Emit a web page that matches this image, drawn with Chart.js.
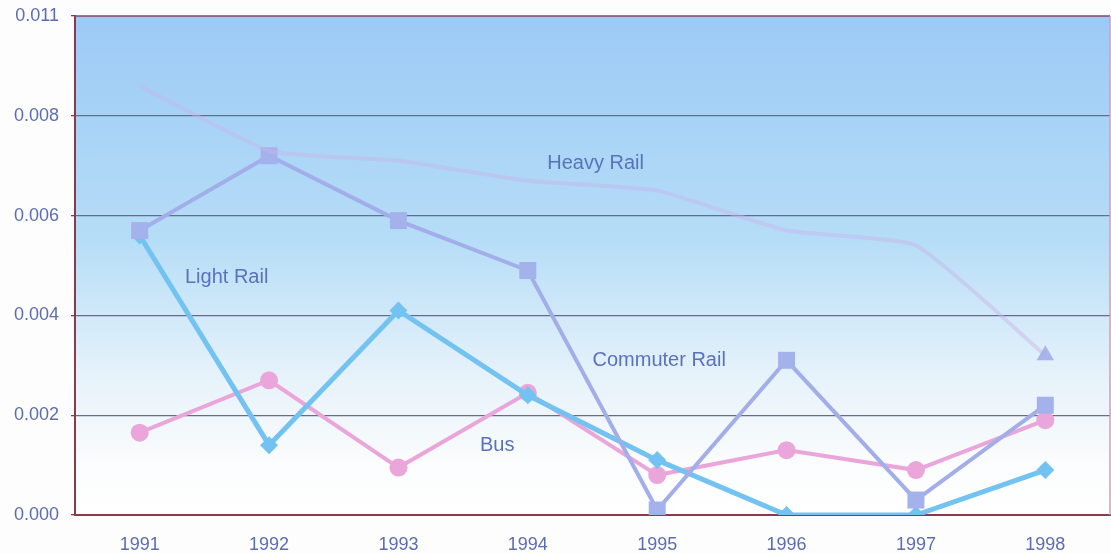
<!DOCTYPE html>
<html>
<head>
<meta charset="utf-8">
<script src="https://cdn.jsdelivr.net/npm/chart.js@4.4.0/dist/chart.umd.min.js"></script>
<style>
  html, body { margin: 0; padding: 0; background: #fdfdfd; }
  #wrap { width: 1111px; height: 554px; position: relative; }
</style>
</head>
<body>
<div id="wrap"><canvas id="chart"></canvas></div>
<script>
// данные
const years = ['1991', '1992', '1993', '1994', '1995', '1996', '1997', '1998'];
const heavyRail    = [0.0086, 0.0073, 0.0071, 0.0067, 0.0065, 0.0057, 0.0054, 0.0032];
const commuterRail = [0.0057, 0.0072, 0.0059, 0.0049, 0.0001, 0.0031, 0.0003, 0.0022];
const lightRail    = [0.0056, 0.0014, 0.0041, 0.0024, 0.0011, 0.0000, 0.0000, 0.0009];
const bus          = [0.00165, 0.0027, 0.00095, 0.00245, 0.0008, 0.0013, 0.0009, 0.0019];
const yTicks = [0, 0.002, 0.004, 0.006, 0.008, 0.010];
const yTickLabels = ['0.000', '0.002', '0.004', '0.006', '0.008', '0.011'];

// подписи серий: [текст, позиция по категориям, значение]
const seriesLabels = [
    ['Heavy Rail', 3.15, 0.00705],
    ['Light Rail', 0.35, 0.00475],
    ['Commuter Rail', 3.5, 0.0031],
    ['Bus', 2.63, 0.0014]
];

const textColor = '#5c6db0';
const fontFamily = '"Liberation Sans", Arial, sans-serif';

const backgroundPlugin = {
    id: 'bgGradient',
    beforeDraw(chart) {
        const { ctx, chartArea: a } = chart;
        const g = ctx.createLinearGradient(0, a.top, 0, a.bottom);
        g.addColorStop(0, '#9ccaf6');
        g.addColorStop(0.45, '#b6ddf7');
        g.addColorStop(0.72, '#e6f2fa');
        g.addColorStop(0.9, '#fbfcfd');
        g.addColorStop(1, '#ffffff');
        ctx.save();
        ctx.fillStyle = g;
        ctx.fillRect(a.left, a.top, a.right - a.left, a.bottom - a.top);
        ctx.restore();
    },
    afterDraw(chart) {
        const { ctx, chartArea: a } = chart;
        ctx.save();
        ctx.strokeStyle = '#8a4560';
        ctx.lineWidth = 1.5;
        ctx.beginPath();
        ctx.moveTo(a.left, a.top);
        ctx.lineTo(a.right, a.top);
        ctx.stroke();
        ctx.strokeStyle = '#d89ab0';
        ctx.beginPath();
        ctx.moveTo(a.right, a.top);
        ctx.lineTo(a.right, a.bottom);
        ctx.stroke();
        // подписи серий
        const xs = chart.scales.x, ys = chart.scales.y;
        ctx.font = '20px ' + fontFamily;
        ctx.fillStyle = '#5a72bc';
        ctx.textAlign = 'left';
        ctx.textBaseline = 'middle';
        seriesLabels.forEach(([t, i, v]) => {
            const x = xs.getPixelForValue(0) + (xs.getPixelForValue(1) - xs.getPixelForValue(0)) * i;
            ctx.fillText(t, x, ys.getPixelForValue(v));
        });
        ctx.restore();
    }
};

const ctx = document.getElementById('chart').getContext('2d');
new Chart(ctx, {
    type: 'line',
    data: {
        labels: years,
        datasets: [
            {
                label: 'Heavy Rail',
                data: heavyRail,
                borderColor: 'rgba(200, 180, 232, 0.45)',
                backgroundColor: 'rgba(164, 176, 234, 0.95)',
                borderWidth: 4,
                pointStyle: 'triangle',
                pointRadius: [0, 0, 0, 0, 0, 0, 0, 10],
                pointBorderWidth: 0,
                tension: 0.15
            },
            {
                label: 'Commuter Rail',
                data: commuterRail,
                borderColor: '#a2aeea',
                backgroundColor: '#a4b2ec',
                borderWidth: 4,
                pointStyle: 'rect',
                pointRadius: 12,
                pointBorderWidth: 0
            },
            {
                label: 'Light Rail',
                data: lightRail,
                borderColor: '#72c2f2',
                backgroundColor: '#72c2f2',
                borderWidth: 5,
                pointStyle: 'rectRot',
                pointRadius: 9,
                pointBorderWidth: 0
            },
            {
                label: 'Bus',
                data: bus,
                borderColor: '#eaa6da',
                backgroundColor: '#eaa6da',
                borderWidth: 4,
                pointStyle: 'circle',
                pointRadius: 9,
                pointBorderWidth: 0
            }
        ]
    },
    options: {
        responsive: true,
        maintainAspectRatio: false,
        animation: false,
        layout: { autoPadding: false, padding: { top: 16, right: 1, left: 0, bottom: 0 } },
        plugins: {
            legend: { display: false },
            tooltip: { enabled: false }
        },
        scales: {
            x: {
                offset: true,
                grid: { display: false, drawTicks: false },
                border: { color: '#8a3a48', width: 2 },
                ticks: {
                    color: textColor,
                    font: { size: 18, family: fontFamily },
                    padding: 19
                },
                afterFit(s) { s.height = 39; }
            },
            y: {
                min: 0,
                max: 0.010,
                afterBuildTicks(s) { s.ticks = yTicks.map(v => ({ value: v })); },
                grid: {
                    color: (c) => (c.tick && (c.tick.value === 0 || c.tick.value >= 0.01)) ? 'rgba(0,0,0,0)' : '#6a6a8c',
                    lineWidth: 1.3,
                    drawTicks: true,
                    tickLength: 4,
                    tickColor: '#8a3a48'
                },
                border: { color: '#8a3a48', width: 2 },
                ticks: {
                    color: textColor,
                    font: { size: 18, family: fontFamily },
                    padding: 12,
                    callback: (v) => {
                        const i = yTicks.findIndex(t => Math.abs(t - v) < 1e-9);
                        return i >= 0 ? yTickLabels[i] : '';
                    }
                },
                afterFit(s) { s.width = 75; s.paddingTop = 0; s.paddingBottom = 0; }
            }
        }
    },
    plugins: [backgroundPlugin]
});
</script>
</body>
</html>
